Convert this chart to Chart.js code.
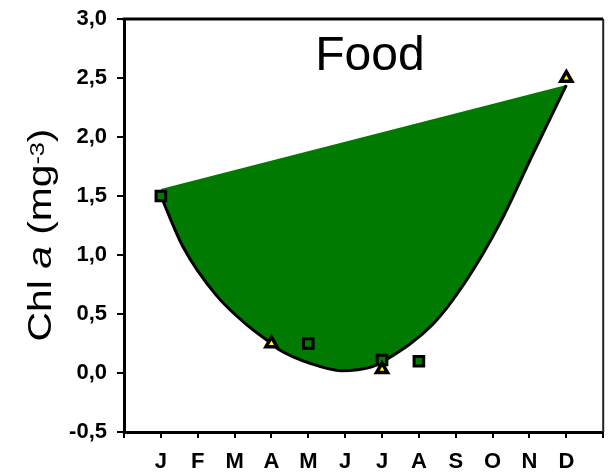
<!DOCTYPE html>
<html>
<head>
<meta charset="utf-8">
<script src="https://cdn.jsdelivr.net/npm/chart.js@4.4.1/dist/chart.umd.min.js"></script>
<style>
  html, body { margin: 0; padding: 0; background: #fff; }
  #wrap { width: 613px; height: 474px; }
</style>
</head>
<body>
<div id="wrap"><canvas id="c" width="613" height="474"></canvas></div>
<script>
// Month labels shown under ticks 1..12
const months = ['J', 'F', 'M', 'A', 'M', 'J', 'J', 'A', 'S', 'O', 'N', 'D'];
// Y axis tick values (Chl a, mg m-3)
const yTicks = [-0.5, 0, 0.5, 1, 1.5, 2, 2.5, 3];

// Seasonal food curve (month position, Chl a)
const curveX = [1, 1.6, 2.5, 3.4, 4.0, 4.2, 5.07, 5.9, 6.7, 7.1, 8.4, 9.3, 10.2, 11.1, 12];
const curveY = [1.5, 1.07, 0.66, 0.39, 0.25, 0.20, 0.08, 0.02, 0.05, 0.11, 0.42, 0.79, 1.27, 1.86, 2.44];
// Upper edge of the shaded food envelope
const upperX = [1, 12];
const upperY = [1.56, 2.44];
// Observations: squares and triangles
const squareX = [1, 5, 7, 8];
const squareY = [1.5, 0.25, 0.11, 0.10];
const triangleX = [4, 7, 12];
const triangleY = [0.25, 0.03, 2.5];

const GREEN = '#007a00';
const FONT = '"Liberation Sans", Arial, sans-serif';
const pts = (xs, ys) => xs.map((x, i) => ({ x: x, y: ys[i] }));

const framePlugin = {
  id: 'frame',
  afterDraw(chart) {
    const { ctx, chartArea: a } = chart;
    ctx.save();
    // top and right frame lines
    ctx.strokeStyle = '#000';
    ctx.lineWidth = 3;
    ctx.beginPath();
    ctx.moveTo(a.left - 1.5, a.top);
    ctx.lineTo(a.right, a.top);
    ctx.stroke();
    ctx.lineWidth = 2;
    ctx.strokeStyle = '#222';
    ctx.beginPath();
    ctx.moveTo(a.right, a.top);
    ctx.lineTo(a.right, a.bottom);
    ctx.stroke();

    // panel title
    ctx.fillStyle = '#000';
    ctx.font = '48px ' + FONT;
    ctx.textAlign = 'center';
    ctx.textBaseline = 'alphabetic';
    ctx.fillText('Food', 370, 70);

    // y axis title: Chl a (mg-3) with italic a and superscript -3
    const parts = [
      { t: 'Chl ', f: '34px ' + FONT, dy: 0 },
      { t: 'a', f: 'italic 34px ' + FONT, dy: 0 },
      { t: ' (mg', f: '34px ' + FONT, dy: 0 },
      { t: '-3', f: '21px ' + FONT, dy: -7 },
      { t: ')', f: '34px ' + FONT, dy: 0 }
    ];
    let total = 0;
    parts.forEach(p => { ctx.font = p.f; p.w = ctx.measureText(p.t).width; total += p.w; });
    ctx.translate(51, 235);
    ctx.rotate(-Math.PI / 2);
    ctx.scale(1.2, 1);
    ctx.textAlign = 'left';
    let x = -total / 2;
    parts.forEach(p => { ctx.font = p.f; ctx.fillText(p.t, x, p.dy); x += p.w; });
    ctx.restore();
  }
};

new Chart(document.getElementById('c'), {
  type: 'scatter',
  data: {
    datasets: [
      {
        type: 'line',
        data: pts(curveX, curveY),
        borderColor: '#000',
        borderWidth: 3,
        pointRadius: 0,
        cubicInterpolationMode: 'monotone',
        fill: { target: 1 },
        backgroundColor: GREEN,
        order: 2
      },
      {
        type: 'line',
        data: pts(upperX, upperY),
        borderColor: 'rgba(0,0,0,0)',
        borderWidth: 0,
        pointRadius: 0,
        fill: false,
        order: 3
      },
      {
        data: pts(squareX, squareY),
        pointStyle: 'rect',
        pointRadius: 6.8,
        backgroundColor: GREEN,
        borderColor: '#000',
        borderWidth: 3,
        order: 1
      },
      {
        data: pts(triangleX, triangleY),
        pointStyle: 'triangle',
        pointRadius: 6.3,
        backgroundColor: '#ffff00',
        borderColor: '#000',
        borderWidth: 3.5,
        order: 0
      }
    ]
  },
  options: {
    responsive: false,
    animation: false,
    events: [],
    layout: { padding: { top: 19, right: 4, left: 0, bottom: 0 } },
    plugins: { legend: { display: false }, tooltip: { enabled: false } },
    scales: {
      x: {
        type: 'linear',
        min: 0,
        max: 13,
        afterFit(s) { s.height = 42; s.paddingLeft = 0; s.paddingRight = 0; },
        afterBuildTicks(s) { s.ticks = Array.from({ length: 14 }, (_, i) => ({ value: i })); },
        ticks: {
          autoSkip: false,
          maxRotation: 0,
          padding: 11,
          color: '#000',
          font: { family: FONT, size: 22, weight: 'bold' },
          callback: v => months[v - 1] || ''
        },
        grid: { drawOnChartArea: false, drawTicks: true, tickLength: 6, color: '#000', lineWidth: 2 },
        border: { display: true, color: '#000', width: 3 }
      },
      y: {
        min: -0.5,
        max: 3,
        afterFit(s) { s.width = 124; s.paddingTop = 0; s.paddingBottom = 0; },
        afterBuildTicks(s) { s.ticks = yTicks.map(v => ({ value: v })); },
        ticks: {
          padding: 10,
          color: '#000',
          font: { family: FONT, size: 22, weight: 'bold' },
          callback: v => v.toFixed(1).replace('.', ',')
        },
        grid: { drawOnChartArea: false, drawTicks: true, tickLength: 7, color: '#000', lineWidth: 2 },
        border: { display: true, color: '#000', width: 3 }
      }
    }
  },
  plugins: [framePlugin]
});
</script>
</body>
</html>
